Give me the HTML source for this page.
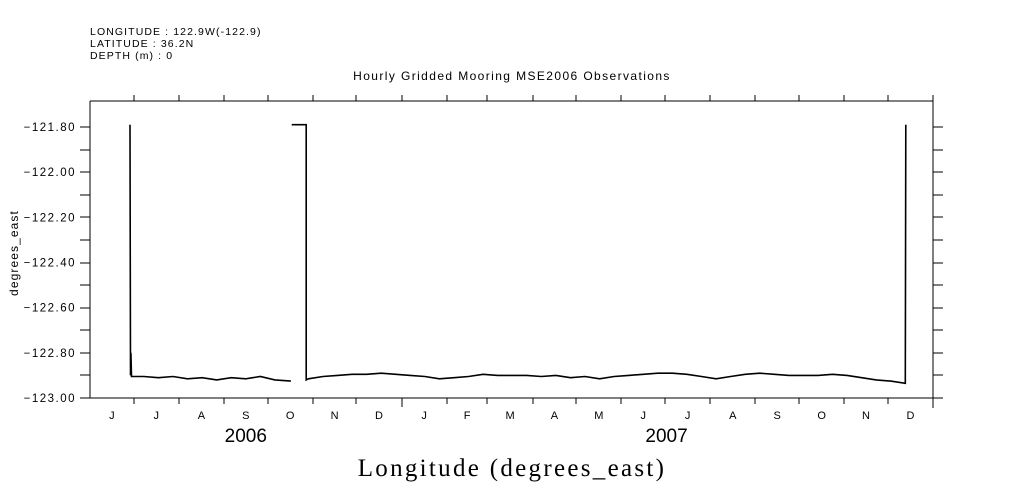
<!DOCTYPE html>
<html><head><meta charset="utf-8"><style>
html,body{margin:0;padding:0;background:#fff;}
svg{display:block;font-family:"Liberation Sans",sans-serif;}
</style></head><body>
<svg id="chart" width="1009" height="504" viewBox="0 0 1009 504">
<g font-size="10.5" letter-spacing="1.1" fill="#000">
<text x="90" y="35">LONGITUDE : 122.9W(-122.9)</text>
<text x="90" y="47">LATITUDE : 36.2N</text>
<text x="90" y="59">DEPTH (m) : 0</text>
</g>
<text x="512" y="80" text-anchor="middle" font-size="12" letter-spacing="1.4">Hourly Gridded Mooring MSE2006 Observations</text>
<text transform="translate(18,253) rotate(-90)" text-anchor="middle" font-size="12" letter-spacing="1.1">degrees_east</text>
<text x="512" y="476" text-anchor="middle" font-family="Liberation Serif,serif" font-size="25" letter-spacing="2.3">Longitude (degrees_east)</text>
<g id="axes"></g>
<g id="series"></g>
</svg>
<script>
const monthLabels=["J","J","A","S","O","N","D","J","F","M","A","M","J","J","A","S","O","N","D"];
const monthStartDays=[0,30,61,92,122,153,183,214,245,273,304,334,365,395,426,457,487,518,548,579];
const yearLabels=["2006","2007"];
const yearCenterDays=[107,396];
const yTicks=[-121.8,-122.0,-122.2,-122.4,-122.6,-122.8,-123.0];
const seriesDays=[27.5,27.8,28.1,28.5,29,37,47,57,67,77,87,97,107,117,127,138,null,138.5,148.5,148.5,150,160,170,180,190,200,210,220,230,240,250,260,270,280,290,300,310,320,330,340,350,360,370,380,390,400,410,420,430,440,450,460,470,480,490,500,510,520,530,540,550,560,560.3];
const seriesVals=[-121.79,-122.9,-122.8,-122.905,-122.905,-122.905,-122.91,-122.905,-122.915,-122.91,-122.92,-122.91,-122.915,-122.905,-122.92,-122.925,null,-121.79,-121.79,-122.92,-122.915,-122.905,-122.9,-122.895,-122.895,-122.89,-122.895,-122.9,-122.905,-122.915,-122.91,-122.905,-122.895,-122.9,-122.9,-122.9,-122.905,-122.9,-122.91,-122.905,-122.915,-122.905,-122.9,-122.895,-122.89,-122.89,-122.895,-122.905,-122.915,-122.905,-122.895,-122.89,-122.895,-122.9,-122.9,-122.9,-122.895,-122.9,-122.91,-122.92,-122.925,-122.935,-121.79];

const X0=90,X1=933,Y0=101,Y1=398,D0=0,D1=579,V0=-123.0,V1=-121.8;
const x=d=>X0+(d-D0)/(D1-D0)*(X1-X0);
const y=v=>398+(v-V0)/(V1-V0)*(127-398);
const NS="http://www.w3.org/2000/svg";
const axes=document.getElementById('axes'), series=document.getElementById('series');
function mk(tag,attrs,parent){const e=document.createElementNS(NS,tag);for(const k in attrs)e.setAttribute(k,attrs[k]);parent.appendChild(e);return e;}
function line(x1,y1,x2,y2,p){return mk('line',{x1,y1,x2,y2,stroke:'#000','stroke-width':1,'shape-rendering':'crispEdges'},p);}
let e;
e=line(X0,Y0,X1,Y0,axes);


e=line(X0,Y0,X0,Y1,axes);


e=line(X0,Y1,943,Y1,axes);


e=line(X1,95,X1,408,axes);


for(let v=-123.0;v<=-121.79;v+=0.1){
  const yy=Math.round(y(v));
  e=line(80,yy,X0,yy,axes);
  
  
  e=line(X1,yy,943,yy,axes);
  
  
}
yTicks.forEach(v=>{
  const t=mk('text',{x:76,y:y(v)+4,'text-anchor':'end','font-size':11.5,'letter-spacing':1.5},axes);
  t.textContent=v.toFixed(2).replace('-','\u2212');
  
  
});
monthStartDays.forEach((d,i)=>{
  if(i===0||i===monthStartDays.length-1)return;
  const xx=Math.round(x(d));
  e=line(xx,95,xx,Y0,axes);
  
  
  e=line(xx,Y1,xx,d===214?407:404,axes);
  
  
});
monthLabels.forEach((m,i)=>{
  const t=mk('text',{x:x((monthStartDays[i]+monthStartDays[i+1])/2),y:419,'text-anchor':'middle','font-size':11},axes);
  t.textContent=m;
  
  
});
yearLabels.forEach((yl,i)=>{
  const t=mk('text',{x:x(yearCenterDays[i]),y:442,'text-anchor':'middle','font-size':19},axes);
  t.textContent=yl;
  
  
});
let dstr='',pen=false;
for(let i=0;i<seriesDays.length;i++){
  if(seriesDays[i]===null){pen=false;continue;}
  dstr+=(pen?'L':'M')+x(seriesDays[i]).toFixed(1)+' '+y(seriesVals[i]).toFixed(1)+' ';
  pen=true;
}
const p=mk('path',{d:dstr,fill:'none',stroke:'#000','stroke-width':1.6,'stroke-linejoin':'miter'},series);


</script>
</body></html>
